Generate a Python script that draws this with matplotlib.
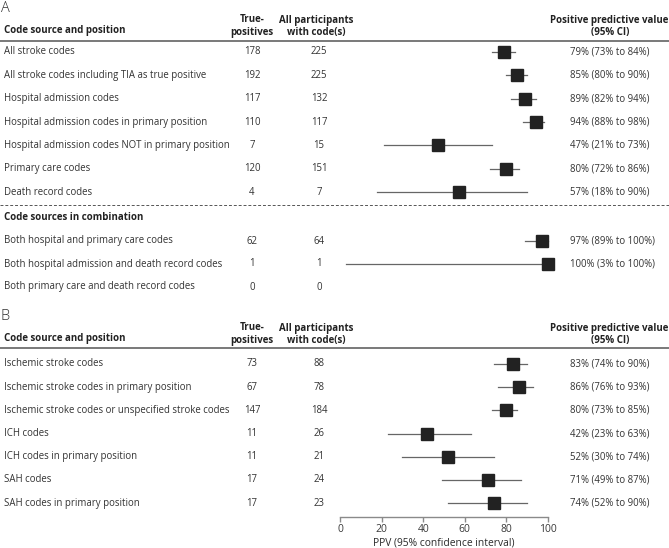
import numpy as np
import matplotlib
matplotlib.use("Agg")
import matplotlib.pyplot as plt

plt.rcParams['font.family'] = ['Open Sans', 'DejaVu Sans']

# panel A, single code sources
labels_a = ["All stroke codes",
            "All stroke codes including TIA as true positive",
            "Hospital admission codes",
            "Hospital admission codes in primary position",
            "Hospital admission codes NOT in primary position",
            "Primary care codes",
            "Death record codes"]
tp_a = [178, 192, 117, 110, 7, 120, 4]
n_a = [225, 225, 132, 117, 15, 151, 7]
ppv_a = [79, 85, 89, 94, 47, 80, 57]
lo_a = [73, 80, 82, 88, 21, 72, 18]
hi_a = [84, 90, 94, 98, 73, 86, 90]

# panel A, code sources in combination
labels_c = ["Both hospital and primary care codes",
            "Both hospital admission and death record codes",
            "Both primary care and death record codes"]
tp_c = [62, 1, 0]
n_c = [64, 1, 0]
ppv_c = [97, 100, None]
lo_c = [89, 3, None]
hi_c = [100, 100, None]

# panel B, stroke subtypes
labels_b = ["Ischemic stroke codes",
            "Ischemic stroke codes in primary position",
            "Ischemic stroke codes or unspecified stroke codes",
            "ICH codes",
            "ICH codes in primary position",
            "SAH codes",
            "SAH codes in primary position"]
tp_b = [73, 67, 147, 11, 11, 17, 17]
n_b = [88, 78, 184, 26, 21, 24, 23]
ppv_b = [83, 86, 80, 42, 52, 71, 74]
lo_b = [74, 76, 73, 23, 30, 49, 52]
hi_b = [90, 93, 85, 63, 74, 87, 90]

W, H = 669, 548
fig = plt.figure(figsize=(W / 100, H / 100), dpi=100)

# background axes in pixel units for the table part
ax0 = fig.add_axes([0, 0, 1, 1])
ax0.set_xlim(0, W)
ax0.set_ylim(H, 0)
ax0.axis('off')

# forest axes: x is PPV, y follows pixel rows
x0, x1, ybot = 340, 548, 517
axF = fig.add_axes([x0 / W, (H - ybot) / H, (x1 - x0) / W, ybot / H])
axF.set_xlim(0, 100)
axF.set_ylim(ybot, 0)
axF.patch.set_alpha(0)
for s in ['top', 'right', 'left']:
    axF.spines[s].set_visible(False)
axF.spines['bottom'].set_color('#8a8a8a')
axF.spines['bottom'].set_linewidth(1.0)
axF.set_yticks([])
axF.set_xticks([0, 20, 40, 60, 80, 100])
axF.tick_params(axis='x', colors='#8a8a8a', length=3.5, width=1.0, pad=1.5,
                labelsize=7.5, labelcolor='#3a3a3a')
axF.set_xlabel("PPV (95% confidence interval)", fontsize=7.4, color='#2a2a2a',
               labelpad=2)

fs = 6.9
fsb = 7.0
txt_col = '#333333'
hd_col = '#222222'
col_tp, col_n, col_ppv = 252, 319, 570


def header(ytop, letter):
    ax0.text(1, ytop + 1, letter, fontsize=10.5, color='#333333',
             fontweight='light', va='center', ha='left')
    ax0.text(4, ytop + 24, "Code source and position", fontsize=fsb,
             fontweight='bold', color=hd_col, va='center')
    ax0.text(col_tp, ytop + 13, "True-", fontsize=fsb, fontweight='bold',
             color=hd_col, va='center', ha='center')
    ax0.text(col_tp, ytop + 25, "positives", fontsize=fsb, fontweight='bold',
             color=hd_col, va='center', ha='center')
    ax0.text(316, ytop + 13, "All participants", fontsize=fsb, fontweight='bold',
             color=hd_col, va='center', ha='center')
    ax0.text(316, ytop + 25, "with code(s)", fontsize=fsb, fontweight='bold',
             color=hd_col, va='center', ha='center')
    ax0.text(609, ytop + 13, "Positive predictive value", fontsize=fsb,
             fontweight='bold', color=hd_col, va='center', ha='center')
    ax0.text(610, ytop + 25, "(95% CI)", fontsize=fsb, fontweight='bold',
             color=hd_col, va='center', ha='center')


def rows(ys, labels, tp, n, ppv, lo, hi):
    for y, lab, t, m, p, l, h in zip(ys, labels, tp, n, ppv, lo, hi):
        ax0.text(4, y, lab, fontsize=fs, color=txt_col, va='center')
        ax0.text(col_tp, y, str(t), fontsize=fs, color=txt_col, va='center',
                 ha='center')
        ax0.text(col_n, y, str(m), fontsize=fs, color=txt_col, va='center',
                 ha='center')
        if p is None:
            continue
        axF.plot([l, h], [y, y], color='#666666', lw=0.9, clip_on=False)
        axF.plot([p], [y], marker='s', ms=9.3, color='#222222', mec='#222222',
                 clip_on=False)
        ax0.text(col_ppv, y, f"{p}% ({l}% to {h}%)", fontsize=fs,
                 color=txt_col, va='center')


# panel A
header(7, "A")
ax0.plot([0, W], [41, 41], color='#555555', lw=1.1)
ya = 52 + 23.35 * np.arange(len(labels_a))
rows(ya, labels_a, tp_a, n_a, ppv_a, lo_a, hi_a)
ax0.plot([0, W], [205, 205], color='#555555', lw=0.7, ls=(0, (3, 2)))
ax0.text(4, 217, "Code sources in combination", fontsize=fsb, fontweight='bold',
         color=hd_col, va='center')
yc = [241, 264, 287]
rows(yc, labels_c, tp_c, n_c, ppv_c, lo_c, hi_c)

# panel B
header(315, "B")
ax0.plot([0, W], [348, 348], color='#555555', lw=1.1)
yb = 364 + 23.2 * np.arange(len(labels_b))
rows(yb, labels_b, tp_b, n_b, ppv_b, lo_b, hi_b)

fig.savefig("out.png", dpi=100)
